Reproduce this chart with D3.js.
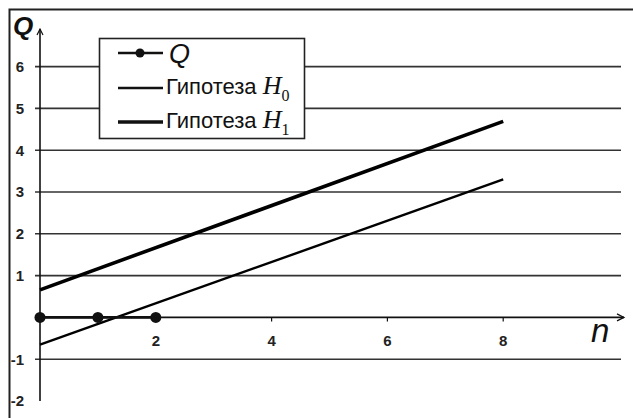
<!DOCTYPE html>
<html>
<head>
<meta charset="utf-8">
<script src="https://cdn.jsdelivr.net/npm/d3@7"></script>
<style>
  body { margin: 0; background: #fff; }
  svg { display: block; }
</style>
</head>
<body>
<div id="chart"></div>
<script>
// data
const qN = [0, 1, 2];
const qValues = [0, 0, 0];
const lineN = [0, 8];
const h0Values = [-0.65, 3.3];
const h1Values = [0.66, 4.69];
const yTicks = [-2, -1, 1, 2, 3, 4, 5, 6];
const yGrid = [-1, 1, 2, 3, 4, 5, 6];
const xTicks = [2, 4, 6, 8];
const legendLabels = ["Q", "Гипотеза ", "Гипотеза "];
const legendSubs = [null, "0", "1"];

const W = 633, H = 418;
const sans = "'Liberation Sans', Arial, sans-serif";
const serif = "'Liberation Serif', 'Times New Roman', serif";

const svg = d3.select("#chart").append("svg")
    .attr("width", W)
    .attr("height", H);

// outer frame (runs off the right and bottom edges)
svg.append("rect")
    .attr("x", 9.5).attr("y", 9.5)
    .attr("width", 640).attr("height", 420)
    .attr("fill", "#fff")
    .attr("stroke", "#222")
    .attr("stroke-width", 2);

const x = d3.scaleLinear().domain([0, 10]).range([40, 619]);
const y = d3.scaleLinear().domain([-2, 6.9]).range([401, 29]);

// horizontal grid lines
svg.append("g")
    .selectAll("line")
    .data(yGrid)
    .enter()
    .append("line")
    .attr("x1", x(0) - 5)
    .attr("x2", x(10) + 2)
    .attr("y1", d => y(d))
    .attr("y2", d => y(d))
    .attr("stroke", "#333")
    .attr("stroke-width", 1.6);

// y axis with arrow
svg.append("line")
    .attr("x1", x(0)).attr("x2", x(0))
    .attr("y1", y(-2)).attr("y2", y.range()[1])
    .attr("stroke", "#111")
    .attr("stroke-width", 1.6);
svg.append("path")
    .attr("d", `M${x(0) - 3},${y.range()[1] + 6} L${x(0)},${y.range()[1]} L${x(0) + 3},${y.range()[1] + 6}`)
    .attr("fill", "none")
    .attr("stroke", "#111")
    .attr("stroke-width", 1.2);

// x axis with arrow
const xEnd = 624;
svg.append("line")
    .attr("x1", x(0)).attr("x2", xEnd)
    .attr("y1", y(0)).attr("y2", y(0))
    .attr("stroke", "#111")
    .attr("stroke-width", 1.6);
svg.append("path")
    .attr("d", `M${xEnd - 7},${y(0) - 3.5} L${xEnd},${y(0)} L${xEnd - 7},${y(0) + 3.5}`)
    .attr("fill", "none")
    .attr("stroke", "#111")
    .attr("stroke-width", 1.2);

// x ticks + labels
const xt = svg.append("g")
    .selectAll("g")
    .data(xTicks)
    .enter()
    .append("g")
    .attr("transform", d => "translate(" + x(d) + "," + y(0) + ")");
xt.append("line")
    .attr("y1", 0).attr("y2", 4)
    .attr("stroke", "#111")
    .attr("stroke-width", 1.2);
xt.append("text")
    .attr("y", 29)
    .attr("text-anchor", "middle")
    .attr("font-family", sans)
    .attr("font-size", 15)
    .attr("font-weight", "bold")
    .attr("fill", "#222")
    .text(d => d);

// y tick labels
svg.append("g")
    .selectAll("text")
    .data(yTicks)
    .enter()
    .append("text")
    .attr("x", 24)
    .attr("y", d => y(d))
    .attr("dy", "0.36em")
    .attr("text-anchor", "end")
    .attr("font-family", sans)
    .attr("font-size", 15)
    .attr("font-weight", "bold")
    .attr("fill", "#222")
    .text(d => d);

// hypothesis lines
const line = d3.line()
    .x(d => x(d[0]))
    .y(d => y(d[1]));

svg.append("path")
    .datum(d3.zip(lineN, h0Values))
    .attr("d", line)
    .attr("fill", "none")
    .attr("stroke", "#000")
    .attr("stroke-width", 2.4);

svg.append("path")
    .datum(d3.zip(lineN, h1Values))
    .attr("d", line)
    .attr("fill", "none")
    .attr("stroke", "#000")
    .attr("stroke-width", 3.6);

// Q series
const qData = d3.zip(qN, qValues);
svg.append("path")
    .datum(qData)
    .attr("d", line)
    .attr("fill", "none")
    .attr("stroke", "#111")
    .attr("stroke-width", 2.6);
svg.append("g")
    .selectAll("circle")
    .data(qData)
    .enter()
    .append("circle")
    .attr("cx", d => x(d[0]))
    .attr("cy", d => y(d[1]))
    .attr("r", 5.5)
    .attr("fill", "#111");

// axis titles
svg.append("text")
    .attr("x", 13).attr("y", 35)
    .attr("font-family", sans)
    .attr("font-size", 26)
    .attr("font-weight", "bold")
    .attr("font-style", "italic")
    .attr("fill", "#111")
    .text("Q");
svg.append("text")
    .attr("x", 591).attr("y", 342)
    .attr("font-family", sans)
    .attr("font-size", 33)
    .attr("font-style", "italic")
    .attr("fill", "#111")
    .text("n");

// legend
const lg = svg.append("g").attr("transform", "translate(99,38)");
lg.append("rect")
    .attr("x", 0.5).attr("y", 0.5)
    .attr("width", 205).attr("height", 100)
    .attr("fill", "#fff")
    .attr("stroke", "#222")
    .attr("stroke-width", 1.6);

const rowY = [15, 50, 84];
const rowWidth = [2.6, 2.4, 3.6];
const rows = lg.selectAll("g.row")
    .data(legendLabels)
    .enter()
    .append("g")
    .attr("class", "row")
    .attr("transform", (d, i) => "translate(0," + rowY[i] + ")");

rows.append("line")
    .attr("x1", 19).attr("x2", 64)
    .attr("stroke", "#111")
    .attr("stroke-width", (d, i) => rowWidth[i]);
rows.filter((d, i) => i === 0)
    .append("circle")
    .attr("cx", 41).attr("r", 4.5)
    .attr("fill", "#111");

const lt = rows.append("text")
    .attr("x", (d, i) => i === 0 ? 70 : 67)
    .attr("dy", "0.35em")
    .attr("fill", "#111");
lt.filter((d, i) => i === 0)
    .attr("font-family", sans)
    .attr("font-size", 27)
    .attr("font-style", "italic")
    .attr("dy", "0.38em")
    .text(d => d);
const hyp = lt.filter((d, i) => i > 0);
hyp.append("tspan")
    .attr("font-family", "'Liberation Sans Narrow', 'Arial Narrow', sans-serif")
    .attr("font-size", 22)
    .text(d => d);
hyp.append("tspan")
    .attr("font-family", serif)
    .attr("font-size", 26)
    .attr("font-style", "italic")
    .text("H");
hyp.append("tspan")
    .attr("dy", 7)
    .attr("font-family", serif)
    .attr("font-size", 16)
    .text((d, i) => legendSubs[i + 1]);
</script>
</body>
</html>
